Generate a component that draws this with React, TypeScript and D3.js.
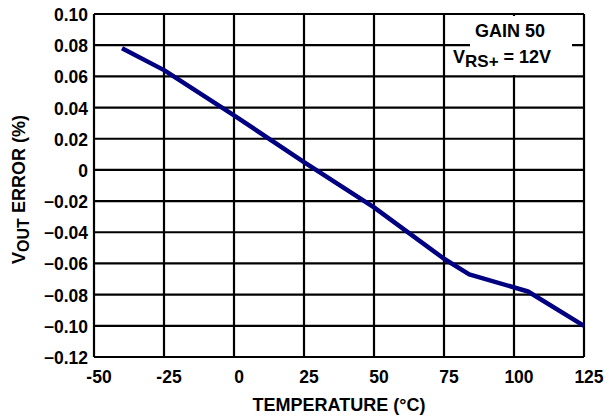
import React, { useEffect, useRef } from "react";
import * as d3 from "d3";

const temps = [-40, -25, 0, 25, 50, 75, 84, 105, 125];
const errors = [0.078, 0.064, 0.035, 0.005, -0.024, -0.057, -0.067, -0.078, -0.1];
const xTicks = [-50, -25, 0, 25, 50, 75, 100, 125];
const yTicks = [0.1, 0.08, 0.06, 0.04, 0.02, 0, -0.02, -0.04, -0.06, -0.08, -0.1, -0.12];

const FONT = "'Liberation Sans', Arial, sans-serif";

const App: React.FC = () => {
  const ref = useRef<SVGSVGElement>(null);

  useEffect(() => {
    const svg = d3.select(ref.current);
    svg.selectAll("*").remove();

    const margin = { top: 14, right: 32, bottom: 59, left: 94 };
    const width = 616 - margin.left - margin.right;
    const height = 416 - margin.top - margin.bottom;

    const g = svg
      .append("g")
      .attr("transform", `translate(${margin.left},${margin.top})`);

    const x = d3.scaleLinear().domain([-50, 125]).range([0, width]);
    const y = d3.scaleLinear().domain([-0.12, 0.1]).range([height, 0]);

    // grid
    g.selectAll(".vgrid")
      .data(xTicks)
      .enter()
      .append("line")
      .attr("x1", (d) => x(d))
      .attr("x2", (d) => x(d))
      .attr("y1", 0)
      .attr("y2", height)
      .attr("stroke", "#000")
      .attr("stroke-width", 2.2);

    g.selectAll(".hgrid")
      .data(yTicks)
      .enter()
      .append("line")
      .attr("x1", 0)
      .attr("x2", width)
      .attr("y1", (d) => y(d))
      .attr("y2", (d) => y(d))
      .attr("stroke", "#000")
      .attr("stroke-width", 2.2);

    // legend box (covers grid)
    g.append("rect")
      .attr("x", 376)
      .attr("y", 2)
      .attr("width", 102)
      .attr("height", 59)
      .attr("fill", "#fff");

    const leg = g.append("g").attr("font-family", FONT).attr("font-weight", "bold").attr("font-size", 18);
    leg.append("text").attr("x", 416).attr("y", 23).attr("text-anchor", "middle").text("GAIN 50");
    const t2 = leg.append("text").attr("x", 359).attr("y", 49);
    t2.append("tspan").text("V");
    t2.append("tspan").attr("dy", 4).attr("font-size", 17).text("RS+");
    t2.append("tspan").attr("dy", -4).text(" = 12V");

    // line
    const line = d3
      .line<number>()
      .x((_, i) => x(temps[i]))
      .y((d) => y(d));

    g.append("path")
      .datum(errors)
      .attr("d", line)
      .attr("fill", "none")
      .attr("stroke", "#000080")
      .attr("stroke-width", 4.5)
      .attr("stroke-linejoin", "round");

    // tick labels
    const labels = g.append("g").attr("font-family", FONT).attr("font-weight", "bold").attr("font-size", 17.5);
    labels
      .selectAll(".yt")
      .data(yTicks)
      .enter()
      .append("text")
      .attr("x", -6)
      .attr("y", (d) => y(d) + 7)
      .attr("text-anchor", "end")
      .text((d) => (d === 0 ? "0" : d3.format(".2f")(d)));

    labels
      .selectAll(".xt")
      .data(xTicks)
      .enter()
      .append("text")
      .attr("x", (d) => x(d) + 5)
      .attr("y", height + 26)
      .attr("text-anchor", "middle")
      .text((d) => String(d));

    // axis titles
    g.append("text")
      .attr("x", width / 2)
      .attr("y", height + 54)
      .attr("text-anchor", "middle")
      .attr("font-family", FONT)
      .attr("font-weight", "bold")
      .attr("font-size", 18)
      .text("TEMPERATURE (°C)");

    const yl = g
      .append("text")
      .attr("transform", `translate(${-69},${height / 2 + 4}) rotate(-90)`)
      .attr("text-anchor", "middle")
      .attr("font-family", FONT)
      .attr("font-weight", "bold")
      .attr("font-size", 18);
    yl.append("tspan").text("V");
    yl.append("tspan").attr("dy", 4).attr("font-size", 16).text("OUT");
    yl.append("tspan").attr("dy", -4).text(" ERROR (%)");
  }, []);

  return (
    <svg
      ref={ref}
      width={616}
      height={416}
      style={{ position: "absolute", left: 0, top: 0, background: "#fff" }}
    />
  );
};

export default App;
